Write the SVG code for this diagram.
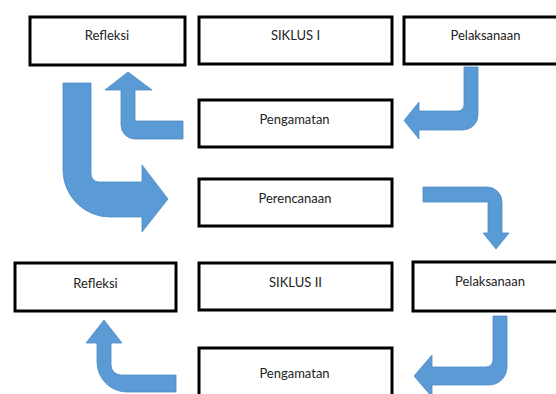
<svg xmlns="http://www.w3.org/2000/svg" width="556" height="394" viewBox="0 0 556 394">
<style>
.box{fill:#fff;stroke:#000;stroke-width:3}
.lbl{font-family:Lato,"Open Sans","Liberation Sans",sans-serif;font-size:13px;fill:#222;text-anchor:middle}
.arr{fill:#5b9bd5;stroke:#4e8bc4;stroke-width:0.8}
</style>
<rect width="556" height="394" fill="#fff"/>
<g id="connectors">
<path class="arr" d="M183,121 L135,121 L135,90 L152,90 L128,72 L105,90 L121,90 L121,125 A14,14 0 0 0 135,139 L183,139 Z"/>
<path class="arr" d="M63,83 L91,83 L91,174 A8,8 0 0 0 99,182 L142,182 L142,165 L168,199 L142,232 L142,217 L110,217 A47,47 0 0 1 63,170 Z"/>
<path class="arr" d="M464,67 L478,67 L478,115 A15,15 0 0 1 463,130 L419,130 L419,139 L404,120.5 L419,102 L419,111 L458,111 A6,6 0 0 0 464,105 Z"/>
<path class="arr" d="M423,187 L487,187 A15,15 0 0 1 502,202 L502,233 L509,233 L496,249 L483,233 L488,233 L488,202 L423,202 Z"/>
<path class="arr" d="M493,316 L507,316 L507,367 A18,18 0 0 1 489,385 L432,385 L432,397 L414,376 L432,355 L432,367 L486,367 A7,7 0 0 0 493,360 Z"/>
<path class="arr" d="M176,375 L121,375 A10,10 0 0 1 111,365 L111,343 L122,343 L104,320 L86,343 L97,343 L97,362 A30,30 0 0 0 127,392 L176,392 Z"/>
</g>
<g id="refleksi1"><rect class="box" x="30" y="17" width="155" height="48"/><text class="lbl" x="107" y="40">Refleksi</text></g>
<g id="siklus1"><rect class="box" x="199" y="17" width="193" height="47"/><text class="lbl" x="295.5" y="40">SIKLUS I</text></g>
<g id="pelaksanaan1"><rect class="box" x="404" y="17" width="160" height="47"/><text class="lbl" x="485.5" y="40">Pelaksanaan</text></g>
<g id="pengamatan1"><rect class="box" x="199" y="100" width="193" height="47"/><text class="lbl" x="294.5" y="124">Pengamatan</text></g>
<g id="perencanaan"><rect class="box" x="199" y="179" width="193" height="47"/><text class="lbl" x="295" y="203">Perencanaan</text></g>
<g id="refleksi2"><rect class="box" x="15" y="263" width="161" height="48"/><text class="lbl" x="95.5" y="288">Refleksi</text></g>
<g id="siklus2"><rect class="box" x="199" y="263" width="193" height="47"/><text class="lbl" x="295.5" y="287">SIKLUS II</text></g>
<g id="pelaksanaan2"><rect class="box" x="413" y="262" width="160" height="49"/><text class="lbl" x="490" y="286">Pelaksanaan</text></g>
<g id="pengamatan2"><rect class="box" x="199" y="348" width="193" height="60"/><text class="lbl" x="294.5" y="378">Pengamatan</text></g>
</svg>
